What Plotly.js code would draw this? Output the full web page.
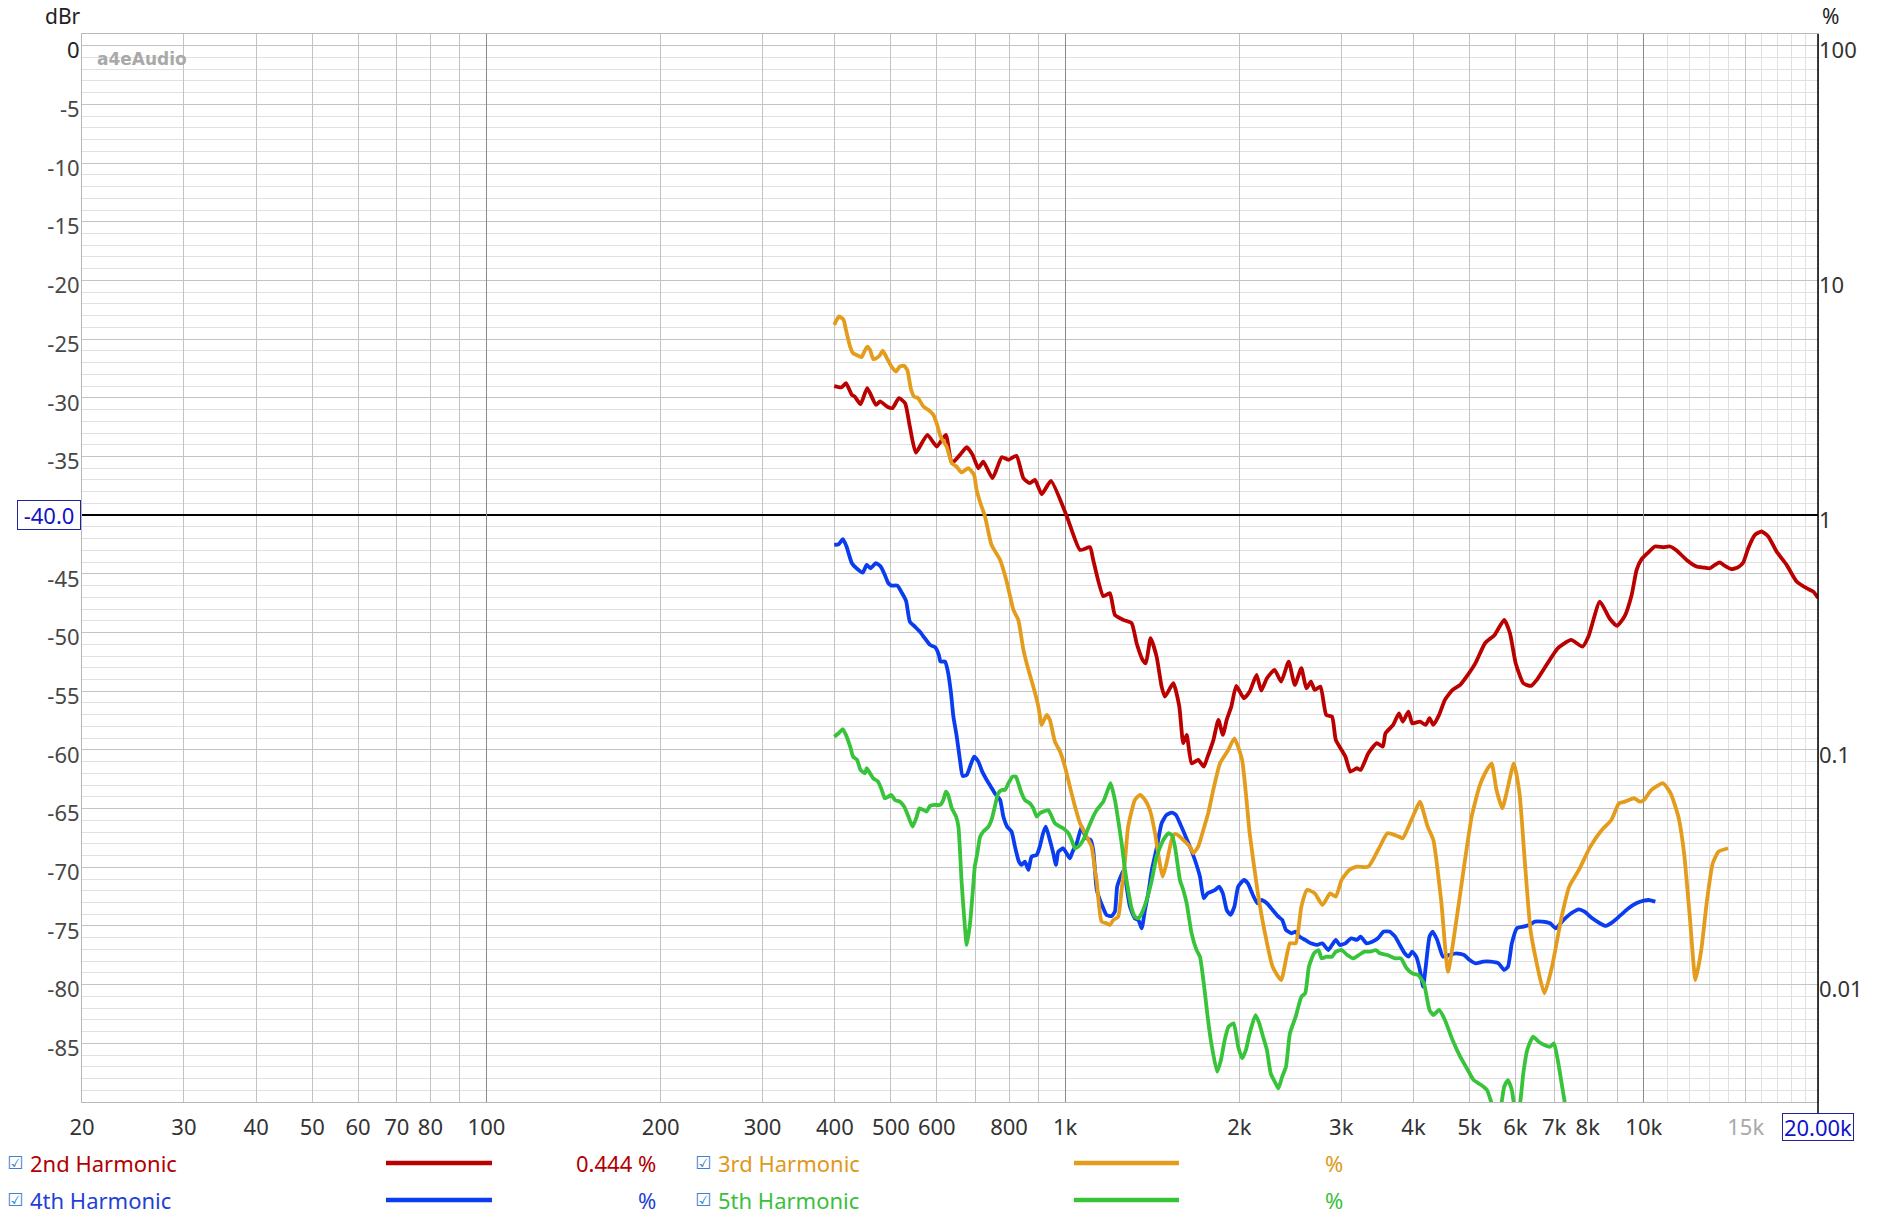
<!DOCTYPE html>
<html><head><meta charset="utf-8">
<script src="https://cdn.plot.ly/plotly-3.0.1.min.js"></script>
<style>html,body{margin:0;padding:0;background:#fff;} #chart{width:1890px;height:1219px;}</style>
</head><body><div id="chart"></div>
<script>
// ---------------- DATA (frequency in Hz, level in dBr) ----------------
const freq2 = [399,411,418,428,433,443,455,471,479,492,503,516,529,539,552,578,600,622,637,658,676,692,708,722,749,777,798,824,847,869,887,911,945,1006,1061,1104,1118,1164,1195,1219,1260,1303,1329,1361,1379,1405,1439,1468,1487,1538,1575,1600,1622,1654,1698,1736,1763,1804,1840,1873,1902,1937,1976,2037,2084,2142,2182,2232,2301,2362,2434,2494,2560,2611,2659,2700,2762,2826,2892,2936,3050,3111,3192,3241,3342,3456,3540,3578,3689,3774,3832,3920,3980,4103,4199,4263,4328,4428,4532,4672,4816,4964,5118,5316,5523,5738,5871,6006,6191,6383,6531,6733,7100,7490,7840,8022,8395,8722,8992,9268,9528,9719,9913,10180,10453,10806,11096,11393,11856,12338,12670,13010,13271,13537,13808,14178,14562,14854,15152,15560,15978,16408,16960,17650,18368,19110,19626,20000];
const db2 = [-29.0,-29.1,-28.75,-29.75,-29.9,-30.54,-29.18,-30.6,-30.3,-30.74,-30.88,-30.03,-30.46,-32.44,-34.66,-33.15,-34.15,-33.15,-35.57,-34.86,-34.2,-34.86,-36.0,-35.43,-36.85,-35.06,-35.28,-34.94,-36.85,-37.27,-36.99,-38.21,-37.08,-40.06,-42.96,-42.73,-43.8,-46.9,-46.65,-48.5,-48.92,-49.2,-50.91,-52.33,-52.61,-50.48,-52.05,-54.6,-55.46,-54.32,-56.31,-59.43,-58.72,-61.14,-60.85,-61.42,-60.57,-59.15,-57.44,-58.72,-57.44,-56.31,-54.55,-55.6,-55.03,-53.61,-54.95,-53.89,-53.18,-54.18,-52.47,-54.46,-53.04,-54.75,-54.18,-54.89,-54.6,-57.02,-57.16,-59.15,-60.57,-61.85,-61.56,-61.71,-60.28,-59.43,-59.72,-58.58,-57.87,-56.88,-57.59,-56.74,-57.73,-57.59,-57.87,-57.3,-57.87,-57.02,-55.74,-54.89,-54.46,-53.61,-52.61,-50.91,-50.2,-48.92,-50.06,-52.61,-54.32,-54.55,-54.03,-53.04,-51.34,-50.63,-51.2,-50.34,-47.36,-48.78,-49.43,-48.6,-46.8,-44.66,-43.75,-43.18,-42.67,-42.73,-42.67,-43.01,-43.81,-44.38,-44.46,-44.52,-44.23,-44.03,-44.32,-44.6,-44.43,-44.03,-42.81,-41.68,-41.39,-41.82,-43.1,-44.23,-45.65,-46.22,-46.51,-47.05];

const freq3 = [399,403,407,414,418,425,430,439,445,449,455,460,466,472,479,484,492,501,510,518,527,534,541,548,557,569,580,592,601,609,624,637,649,662,680,696,703,714,727,746,772,792,814,830,847,864,881,899,911,929,941,960,980,999,1019,1040,1061,1082,1111,1126,1134,1156,1179,1195,1211,1235,1252,1269,1285,1320,1347,1374,1401,1430,1454,1474,1497,1528,1548,1579,1611,1643,1665,1698,1733,1767,1803,1852,1914,1961,2022,2084,2149,2215,2283,2362,2446,2503,2560,2619,2700,2784,2870,2936,3004,3097,3192,3342,3498,3606,3774,3832,3920,4012,4103,4231,4328,4464,4588,4708,4890,5041,5198,5316,5456,5565,5694,5825,5960,6098,6238,6383,6733,6940,7211,7433,7723,8083,8460,8788,9062,9268,9626,9850,10003,10311,10795,11127,11472,11738,12008,12285,12568,12860,13157,13461,13983];
const db3 = [-23.78,-23.35,-23.07,-23.35,-24.2,-25.63,-26.19,-26.42,-26.53,-26.14,-25.63,-25.91,-26.7,-26.62,-26.34,-25.97,-26.62,-27.33,-27.76,-27.33,-27.27,-27.67,-29.18,-29.89,-30.03,-30.74,-31.02,-31.45,-32.3,-33.3,-34.15,-35.57,-35.85,-36.36,-36.0,-36.56,-37.84,-38.98,-40.11,-42.53,-43.81,-45.6,-48.07,-48.92,-51.48,-53.18,-54.6,-56.31,-57.87,-57.02,-57.44,-59.29,-60.14,-61.42,-63.13,-64.83,-66.25,-67.1,-68.24,-70.23,-71.2,-74.63,-74.77,-74.92,-74.49,-74.21,-71.93,-69.38,-66.54,-64.26,-63.84,-64.26,-65.12,-67.1,-69.38,-70.8,-69.66,-67.67,-67.16,-67.39,-67.81,-68.24,-68.81,-68.24,-66.82,-65.4,-63.41,-61.14,-60.0,-59.01,-60.85,-67.1,-71.93,-75.63,-78.47,-79.61,-76.48,-76.48,-73.35,-71.93,-72.22,-73.21,-72.22,-72.5,-71.08,-70.23,-69.95,-69.95,-68.24,-67.1,-67.39,-67.53,-66.54,-65.4,-64.41,-66.54,-67.67,-72.79,-78.9,-75.63,-69.95,-65.68,-63.13,-61.99,-61.14,-63.41,-64.97,-63.13,-61.14,-63.7,-69.95,-75.63,-80.74,-78.47,-74.21,-71.65,-70.23,-68.24,-66.82,-65.97,-64.55,-64.41,-64.12,-64.41,-64.26,-63.41,-62.84,-63.7,-65.68,-68.81,-74.21,-79.61,-77.05,-72.79,-69.66,-68.67,-68.38];

const freq4 = [399,406,413,419,428,436,447,454,461,471,480,488,495,501,513,522,531,539,550,561,572,584,596,605,609,620,628,635,641,649,658,665,676,685,696,708,719,732,744,756,772,782,794,808,819,832,841,852,864,875,893,904,916,926,941,954,964,973,982,992,1006,1019,1030,1047,1068,1078,1089,1107,1118,1126,1134,1164,1179,1203,1219,1230,1247,1263,1277,1294,1320,1338,1356,1374,1392,1412,1439,1468,1497,1528,1554,1579,1611,1643,1676,1710,1736,1763,1789,1817,1845,1873,1902,1931,1961,1991,2037,2069,2117,2149,2182,2232,2283,2336,2372,2408,2464,2503,2541,2599,2659,2720,2784,2848,2892,2936,2982,3050,3121,3192,3241,3317,3394,3471,3551,3634,3718,3774,3862,3920,3980,4043,4103,4156,4199,4263,4316,4395,4498,4602,4743,4890,5002,5118,5277,5440,5609,5738,5825,5915,6034,6191,6335,6481,6682,6888,7047,7266,7490,7723,7900,8146,8395,8590,8856,9129,9411,9703,10003,10234,10470];
const db4 = [-42.53,-42.48,-42.05,-42.67,-44.09,-44.52,-44.89,-44.23,-44.52,-44.09,-44.38,-45.1,-45.8,-46.0,-46.0,-46.6,-47.3,-49.06,-49.49,-49.92,-50.48,-51.05,-51.25,-51.9,-52.47,-52.47,-53.47,-55.17,-57.16,-58.72,-60.85,-62.22,-62.13,-61.42,-60.57,-61.0,-61.85,-62.56,-63.13,-63.7,-64.26,-65.68,-66.54,-66.96,-68.24,-69.52,-69.8,-69.52,-70.23,-69.09,-68.95,-68.24,-67.1,-66.54,-67.67,-68.81,-69.8,-68.67,-68.52,-68.38,-68.81,-69.23,-68.67,-67.96,-66.54,-67.1,-67.53,-67.67,-68.52,-70.23,-71.93,-73.5,-74.07,-74.15,-73.78,-71.65,-70.8,-70.23,-71.65,-73.35,-74.35,-74.49,-75.2,-73.64,-72.22,-70.23,-68.4,-66.25,-65.54,-65.34,-65.54,-66.25,-67.25,-68.24,-69.38,-70.8,-72.64,-72.22,-72.08,-71.93,-71.65,-72.22,-73.64,-74.06,-73.35,-71.65,-71.08,-71.37,-72.5,-73.07,-72.79,-73.07,-73.64,-74.21,-74.49,-75.34,-75.63,-75.48,-75.91,-76.19,-76.48,-76.62,-76.48,-77.05,-76.62,-76.19,-76.62,-76.48,-76.05,-76.19,-75.91,-76.48,-76.34,-76.05,-75.48,-75.48,-75.91,-76.48,-77.33,-77.62,-77.19,-77.62,-78.75,-80.18,-78.47,-75.91,-75.48,-76.19,-77.62,-77.48,-77.33,-77.48,-77.9,-78.18,-78.04,-78.04,-78.18,-78.75,-78.47,-76.48,-75.2,-75.06,-74.92,-74.63,-74.63,-74.77,-75.2,-74.49,-73.92,-73.58,-73.78,-74.35,-74.77,-75.0,-74.63,-74.06,-73.5,-73.07,-72.84,-72.79,-72.93];

const freq5 = [399,406,413,418,426,430,437,443,451,454,460,466,475,482,488,495,501,508,518,527,536,545,554,560,569,576,584,596,608,616,622,628,637,648,654,658,662,669,676,685,692,698,705,713,722,737,746,756,766,777,787,798,811,822,830,841,852,869,881,893,904,916,935,948,960,980,992,1013,1026,1040,1054,1075,1096,1118,1134,1164,1179,1198,1219,1235,1252,1269,1285,1303,1320,1338,1356,1383,1412,1439,1478,1508,1528,1548,1579,1600,1622,1654,1687,1710,1736,1763,1789,1831,1859,1887,1916,1955,1991,2022,2053,2084,2133,2165,2198,2232,2266,2318,2336,2372,2408,2446,2503,2560,2599,2638,2692,2741,2775,2826,2892,2936,3004,3073,3145,3217,3291,3367,3445,3498,3606,3718,3804,3891,3980,4074,4168,4263,4328,4428,4532,4672,4816,4964,5080,5236,5358,5482,5609,5738,5825,5915,6006,6098,6191,6288,6433,6580,6733,6888,6994,7100,7211,7321,7433];
const db5 = [-58.87,-58.58,-58.24,-58.72,-59.86,-60.57,-60.85,-61.71,-61.99,-61.56,-61.99,-62.42,-62.7,-63.41,-64.12,-63.98,-63.84,-64.26,-64.41,-64.83,-65.68,-66.54,-65.68,-64.97,-65.12,-65.26,-64.77,-64.69,-64.69,-64.26,-63.55,-63.84,-64.97,-65.68,-66.54,-68.52,-71.08,-74.21,-76.62,-74.77,-72.22,-69.95,-68.81,-67.39,-66.96,-66.54,-65.97,-64.83,-63.7,-63.41,-63.41,-62.84,-62.27,-62.27,-62.84,-63.7,-64.26,-64.55,-64.97,-65.68,-65.4,-65.26,-65.12,-65.68,-66.25,-66.54,-66.68,-67.1,-67.67,-68.38,-68.24,-67.67,-66.68,-65.68,-65.12,-64.41,-63.7,-62.84,-64.26,-65.97,-67.96,-70.23,-71.93,-73.5,-74.21,-74.35,-73.92,-72.79,-71.08,-69.09,-67.67,-67.1,-67.25,-68.24,-71.08,-71.93,-73.07,-75.63,-77.05,-77.62,-79.89,-82.73,-85.0,-87.42,-86.42,-84.72,-83.58,-83.3,-85.29,-86.28,-85.57,-84.15,-82.59,-83.3,-84.44,-85.57,-87.56,-88.55,-88.84,-87.84,-86.99,-84.15,-82.73,-81.03,-80.74,-78.47,-77.33,-77.05,-77.76,-77.62,-77.62,-77.19,-77.05,-77.48,-77.76,-77.48,-77.19,-77.19,-77.05,-77.33,-77.48,-77.76,-77.76,-78.61,-79.04,-79.18,-79.89,-82.16,-82.59,-82.16,-83.01,-84.72,-86.14,-87.27,-88.13,-88.55,-88.98,-90.4,-91.5,-88.7,-88.13,-88.98,-91.0,-90.4,-87.56,-85.57,-84.44,-84.86,-85.14,-85.29,-85.0,-86.42,-88.41,-90.4,-92.7];

const seriesNames = ['2nd Harmonic','3rd Harmonic','4th Harmonic','5th Harmonic'];
const cursorValues = ['0.444 %','%','%','%'];

// axis ticks
const xTickVals = [20,30,40,50,60,70,80,90,100,200,300,400,500,600,700,800,900,1000,2000,3000,4000,5000,6000,7000,8000,9000,10000,15000,20000];
const xTickText = ['20','30','40','50','60','70','80','','100','200','300','400','500','600','','800','','1k','2k','3k','4k','5k','6k','7k','8k','','10k','<span style="color:#a8a8a8">15k</span>',''];
const xMinorVals = [11000,12000,13000,14000,15000,16000,17000,18000,19000];
const xDecadeVals = [100,1000,10000];
const yTickVals = [0,-5,-10,-15,-20,-25,-30,-35,-40,-45,-50,-55,-60,-65,-70,-75,-80,-85];
const yTickText = ['<span style="color:#222">0</span>','-5','-10','-15','-20','-25','-30','-35','','-45','-50','-55','-60','-65','-70','-75','-80','-85'];
const pctTickVals = [0,-20,-40,-60,-80];
const pctTickText = ['100','10','1','0.1','0.01'];

// ---------------- STYLE / LAYOUT ----------------
const FONT = 'Noto Sans, Open Sans, sans-serif';
const COL = {red:'#bb0000', orange:'#e49c1c', blue:'#0a3cf0', green:'#38c43a'};
const TXT = {red:'#b30000', orange:'#e0981c', blue:'#1f3fd8', green:'#3cbf3c'};
const L=82, R=1818, T=34, B=1102;
const PW=R-L, PH=B-T;
const px = x => (x-L)/PW;
const py = y => (B-y)/PH;
const XR = [Math.log10(20), Math.log10(20000)];
const YR = [-90, 1.0];
const lw = 3.8;

const traces = [
  {x:freq5, y:db5, xaxis:'x2', yaxis:'y', type:'scatter', mode:'lines', line:{color:COL.green, width:lw, shape:'spline', smoothing:0.5}, hoverinfo:'skip', showlegend:false},
  {x:freq4, y:db4, xaxis:'x', yaxis:'y', type:'scatter', mode:'lines', line:{color:COL.blue, width:lw, shape:'spline', smoothing:0.5}, hoverinfo:'skip', showlegend:false},
  {x:freq3, y:db3, xaxis:'x', yaxis:'y3', type:'scatter', mode:'lines', line:{color:COL.orange, width:lw, shape:'spline', smoothing:0.5}, hoverinfo:'skip', showlegend:false},
  {x:freq2, y:db2, xaxis:'x', yaxis:'y2', type:'scatter', mode:'lines', line:{color:COL.red, width:lw, shape:'spline', smoothing:0.5}, hoverinfo:'skip', showlegend:false}
];

const tickFont = {family:FONT, size:22, color:'#333'};

const layout = {
  width:1890, height:1219, autosize:false,
  margin:{l:L, r:1890-R, t:T, b:1219-B, pad:0},
  paper_bgcolor:'#fff', plot_bgcolor:'#fff',
  showlegend:false,
  font:{family:FONT, size:22, color:'#333'},
  xaxis:{type:'log', range:XR, tickmode:'array', tickvals:xTickVals, ticktext:xTickText,
    showgrid:true, gridcolor:'#c3c3c3', gridwidth:1,
    minor:{tickmode:'array', tickvals:xMinorVals, showgrid:true, gridcolor:'#e0e0e0', gridwidth:1, ticks:''},
    showline:true, linecolor:'#b8b8b8', linewidth:1, mirror:true, ticks:'', zeroline:false,
    tickfont:tickFont, ticklabelstandoff:6, fixedrange:true},
  xaxis2:{type:'log', range:XR, overlaying:'x', tickmode:'array', tickvals:xDecadeVals, showticklabels:false,
    showgrid:true, gridcolor:'#8a8a8a', gridwidth:1, showline:false, ticks:'', zeroline:false, fixedrange:true},
  yaxis:{range:YR, tickmode:'array', tickvals:yTickVals, ticktext:yTickText,
    showgrid:true, gridcolor:'#c3c3c3', gridwidth:1,
    minor:{tickmode:'linear', tick0:0, dtick:1, showgrid:true, gridcolor:'#e0e0e0', gridwidth:1, ticks:''},
    showline:true, linecolor:'#b8b8b8', linewidth:1, mirror:true, ticks:'', zeroline:false,
    tickfont:{family:FONT, size:22, color:'#474747'}, ticklabelshift:5, ticklabelstandoff:-3, fixedrange:true},
  yaxis2:{range:YR, overlaying:'y', side:'right', tickmode:'array', tickvals:pctTickVals, ticktext:pctTickText,
    showgrid:false, showline:false, ticks:'', zeroline:false, tickfont:tickFont, ticklabelshift:5, fixedrange:true},
  yaxis3:{range:YR, overlaying:'y', tickmode:'array', tickvals:[-40], showticklabels:false,
    showgrid:true, gridcolor:'#000', gridwidth:1.5, showline:false, ticks:'', zeroline:false, fixedrange:true},
  shapes:[
    // vertical cursor at 20 kHz (right edge), running down to its label box
    {type:'line', xref:'paper', yref:'paper', x0:1, x1:1, y0:py(1113), y1:1, line:{color:'#000', width:1.5}, layer:'above'},
    // legend line samples
    {type:'line', xref:'paper', yref:'paper', x0:px(386), x1:px(492), y0:py(1163), y1:py(1163), line:{color:COL.red, width:4.5}},
    {type:'line', xref:'paper', yref:'paper', x0:px(1074), x1:px(1179), y0:py(1163), y1:py(1163), line:{color:COL.orange, width:4.5}},
    {type:'line', xref:'paper', yref:'paper', x0:px(386), x1:px(492), y0:py(1200), y1:py(1200), line:{color:COL.blue, width:4.5}},
    {type:'line', xref:'paper', yref:'paper', x0:px(1074), x1:px(1179), y0:py(1200), y1:py(1200), line:{color:COL.green, width:4.5}}
  ],
  annotations:[]
};

const A = layout.annotations;
A.push({xref:'paper', yref:'paper', x:px(63), y:py(16), xanchor:'center', yanchor:'middle', text:'dBr', showarrow:false, font:{family:FONT, size:21, color:'#222'}});
A.push({xref:'paper', yref:'paper', x:px(1830), y:py(16), xanchor:'center', yanchor:'middle', text:'%', showarrow:false, font:{family:FONT, size:21, color:'#222'}});
A.push({xref:'paper', yref:'paper', x:px(142), y:py(59), xanchor:'center', yanchor:'middle', text:'<b>a4eAudio</b>', showarrow:false, font:{family:'DejaVu Sans, sans-serif', size:17, color:'#a9a9a9'}});
// cursor readouts
A.push({xref:'paper', yref:'y', x:px(81), y:-40, xanchor:'right', yanchor:'middle', text:'-40.0', showarrow:false,
  font:{family:FONT, size:22, color:'#1212c8'}, bordercolor:'#22229c', borderwidth:1, borderpad:1, bgcolor:'#fff', width:60, height:26});
A.push({xref:'paper', yref:'paper', x:1, y:py(1113), xanchor:'center', yanchor:'top', text:'20.00k', showarrow:false,
  font:{family:FONT, size:22, color:'#1212c8'}, bordercolor:'#22229c', borderwidth:1, borderpad:1, bgcolor:'#fff', width:68, height:24});

// legend rows
const legendRows = [
  {name:seriesNames[0], val:cursorValues[0], color:TXT.red,    x0:27.7, cb:14.5, vx:658,  y:1163},
  {name:seriesNames[1], val:cursorValues[1], color:TXT.orange, x0:716,  cb:703,  vx:1345, y:1163},
  {name:seriesNames[2], val:cursorValues[2], color:TXT.blue,   x0:27.7, cb:14.5, vx:658,  y:1200},
  {name:seriesNames[3], val:cursorValues[3], color:TXT.green,  x0:716,  cb:703,  vx:1345, y:1200}
];
legendRows.forEach(r => {
  A.push({xref:'paper', yref:'paper', x:px(r.cb), y:py(r.y-1), xanchor:'center', yanchor:'middle', text:'\u2611', showarrow:false, font:{family:'DejaVu Sans, sans-serif', size:18, color:'#3a82d6'}});
  A.push({xref:'paper', yref:'paper', x:px(r.x0), y:py(r.y), xanchor:'left', yanchor:'middle', text:r.name, showarrow:false, font:{family:FONT, size:22, color:r.color}});
  A.push({xref:'paper', yref:'paper', x:px(r.vx), y:py(r.y), xanchor:'right', yanchor:'middle', text:r.val, showarrow:false, font:{family:FONT, size:22, color:r.color}});
});

Plotly.newPlot('chart', traces, layout, {staticPlot:true, displayModeBar:false});
</script>
</body></html>
